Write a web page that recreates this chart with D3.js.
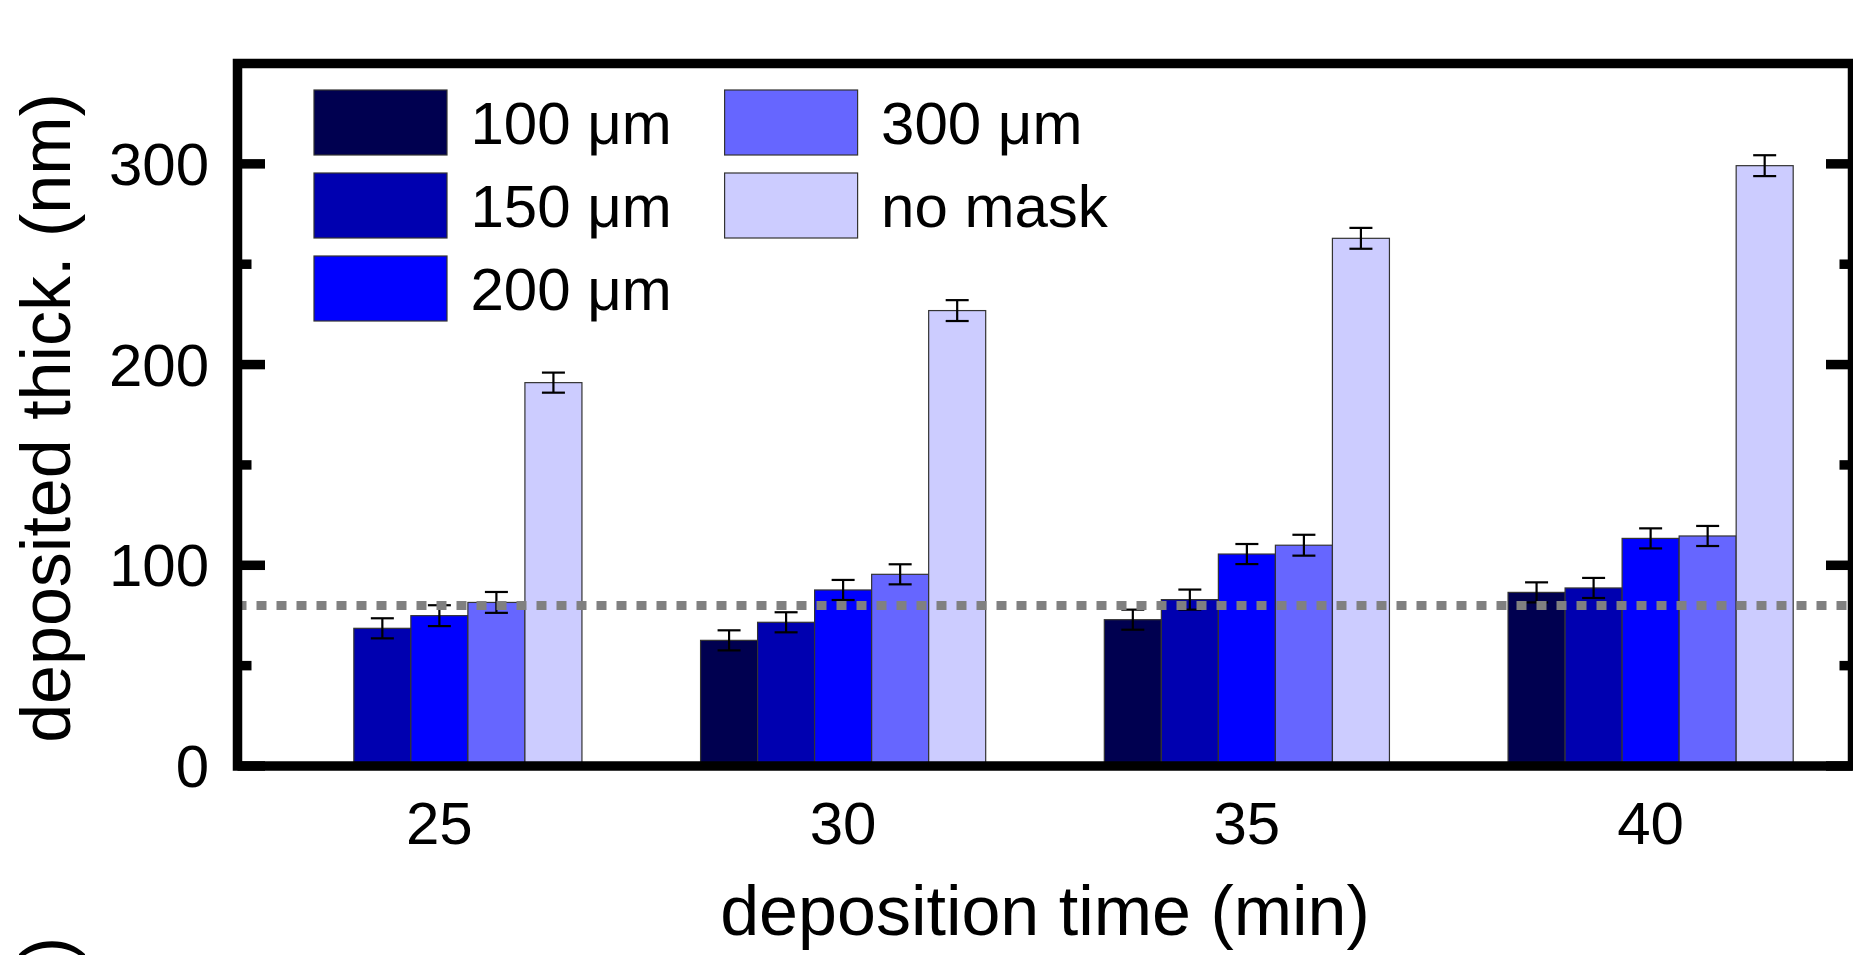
<!DOCTYPE html>
<html>
<head>
<meta charset="utf-8">
<script src="https://cdn.jsdelivr.net/npm/d3@7"></script>
<style>
  body { margin: 0; background: #fff; }
  svg text { font-family: "Liberation Sans", Arial, sans-serif; fill: #000; }
</style>
</head>
<body>
<svg id="chart" width="1853" height="955"></svg>
<script>
// deposition times (x groups)
var times = ["25", "30", "35", "40"];
// mask widths (series)
var seriesNames = ["100 \u03bcm", "150 \u03bcm", "200 \u03bcm", "300 \u03bcm", "no mask"];
var seriesColors = ["#000050", "#0000b0", "#0000ff", "#6666ff", "#ccccff"];

// deposited thickness (nm), null = no measurement
var thick100 = [null, 62.6, 72.9, 86.5];
var thick150 = [68.6, 71.6, 82.9, 88.7];
var thick200 = [74.9, 87.7, 105.6, 113.4];
var thick300 = [81.5, 95.5, 110.0, 114.6];
var thickNoMask = [191.0, 226.9, 262.9, 299.1];

// error bar half-widths (nm)
var err100 = [null, 5, 5, 5];
var err150 = [5, 5, 5, 5];
var err200 = [5.2, 5, 5, 5];
var err300 = [5.2, 5, 5.2, 5];
var errNoMask = [5, 5.2, 5.2, 5.2];

var yMajorTicks = [0, 100, 200, 300];
var yMinorTicks = [50, 150, 250];
var targetThick = 80;

var allValues = [thick100, thick150, thick200, thick300, thickNoMask];
var allErrors = [err100, err150, err200, err300, errNoMask];

// plot box (window.top is reserved, so no plain "top")
var plotLeft = 237.5, plotRight = 1852.5, plotTop = 63.5, plotBottom = 766;

var svg = d3.select("#chart");

var x = d3.scaleBand().domain(times).range([plotLeft, plotRight]).padding(0);
var xs = d3.scaleBand().domain(seriesNames).range([0, x.bandwidth()])
  .paddingInner(0).paddingOuter(1.04);
var y = d3.scaleLinear().domain([0, 350]).range([plotBottom, plotTop]);

// flatten to bar records
var bars = [];
seriesNames.forEach(function(s, si) {
  times.forEach(function(t, ti) {
    var v = allValues[si][ti];
    if (v == null) return;
    bars.push({ series: s, si: si, time: t, value: v, err: allErrors[si][ti] });
  });
});

// bars
svg.append("g").selectAll("rect")
  .data(bars)
  .enter()
  .append("rect")
  .attr("x", function(d) { return x(d.time) + xs(d.series); })
  .attr("y", function(d) { return y(d.value); })
  .attr("width", xs.bandwidth())
  .attr("height", function(d) { return y(0) - y(d.value); })
  .attr("fill", function(d) { return seriesColors[d.si]; })
  .attr("stroke", "#333")
  .attr("stroke-width", 1.2);

// error bars
var capHalf = 11.5;
var eg = svg.append("g").attr("stroke", "#000").attr("stroke-width", 2.2);
bars.forEach(function(d) {
  var cx = x(d.time) + xs(d.series) + xs.bandwidth() / 2;
  eg.append("line").attr("x1", cx).attr("x2", cx)
    .attr("y1", y(d.value - d.err)).attr("y2", y(d.value + d.err));
  eg.append("line").attr("x1", cx - capHalf).attr("x2", cx + capHalf)
    .attr("y1", y(d.value + d.err)).attr("y2", y(d.value + d.err));
  eg.append("line").attr("x1", cx - capHalf).attr("x2", cx + capHalf)
    .attr("y1", y(d.value - d.err)).attr("y2", y(d.value - d.err));
});

// target thickness reference line
svg.append("line")
  .attr("x1", plotLeft - 1).attr("x2", plotRight)
  .attr("y1", y(targetThick)).attr("y2", y(targetThick))
  .attr("stroke", "#808080")
  .attr("stroke-width", 9)
  .attr("stroke-dasharray", "10,10");

// frame
svg.append("rect")
  .attr("x", plotLeft).attr("y", plotTop)
  .attr("width", plotRight - plotLeft).attr("height", plotBottom - plotTop)
  .attr("fill", "none").attr("stroke", "#000").attr("stroke-width", 9.5);

// y ticks, left and right, pointing inward
var tg = svg.append("g").attr("stroke", "#000").attr("stroke-width", 9.5);
yMajorTicks.forEach(function(v) {
  tg.append("line").attr("x1", plotLeft).attr("x2", plotLeft + 27.5).attr("y1", y(v)).attr("y2", y(v));
  tg.append("line").attr("x1", plotRight).attr("x2", plotRight - 26.5).attr("y1", y(v)).attr("y2", y(v));
});
yMinorTicks.forEach(function(v) {
  tg.append("line").attr("x1", plotLeft).attr("x2", plotLeft + 14).attr("y1", y(v)).attr("y2", y(v));
  tg.append("line").attr("x1", plotRight).attr("x2", plotRight - 13).attr("y1", y(v)).attr("y2", y(v));
});

// y tick labels
svg.append("g").selectAll("text")
  .data(yMajorTicks)
  .enter()
  .append("text")
  .attr("x", 209)
  .attr("y", function(d) { return y(d); })
  .attr("dy", "0.35em")
  .attr("text-anchor", "end")
  .attr("font-size", 60)
  .text(function(d) { return d; });

// x tick labels
svg.append("g").selectAll("text")
  .data(times)
  .enter()
  .append("text")
  .attr("x", function(d) { return x(d) + x.bandwidth() / 2; })
  .attr("y", 844)
  .attr("text-anchor", "middle")
  .attr("font-size", 60)
  .text(function(d) { return d; });

// axis titles
svg.append("text")
  .attr("x", (plotLeft + plotRight) / 2)
  .attr("y", 935)
  .attr("text-anchor", "middle")
  .attr("font-size", 70)
  .text("deposition time (min)");

svg.append("text")
  .attr("transform", "translate(69.5,418) rotate(-90)")
  .attr("text-anchor", "middle")
  .attr("font-size", 70)
  .text("deposited thick. (nm)");

// cut-off label of the panel below
svg.append("text")
  .attr("transform", "translate(69.5,937) rotate(-90)")
  .attr("text-anchor", "end")
  .attr("font-size", 70)
  .text(")");

// legend, two columns
var legendCols = [314, 724.6];
var legendRows = [90, 173, 256];
var lg = svg.append("g");
seriesNames.forEach(function(s, i) {
  var col = i < 3 ? 0 : 1;
  var row = i < 3 ? i : i - 3;
  var lx = legendCols[col], ly = legendRows[row];
  lg.append("rect")
    .attr("x", lx).attr("y", ly)
    .attr("width", 133).attr("height", 65)
    .attr("fill", seriesColors[i])
    .attr("stroke", "#333").attr("stroke-width", 1.2);
  lg.append("text")
    .attr("x", lx + 156.5)
    .attr("y", ly + 32.5)
    .attr("dy", "0.35em")
    .attr("font-size", 60)
    .text(s);
});
</script>
</body>
</html>
